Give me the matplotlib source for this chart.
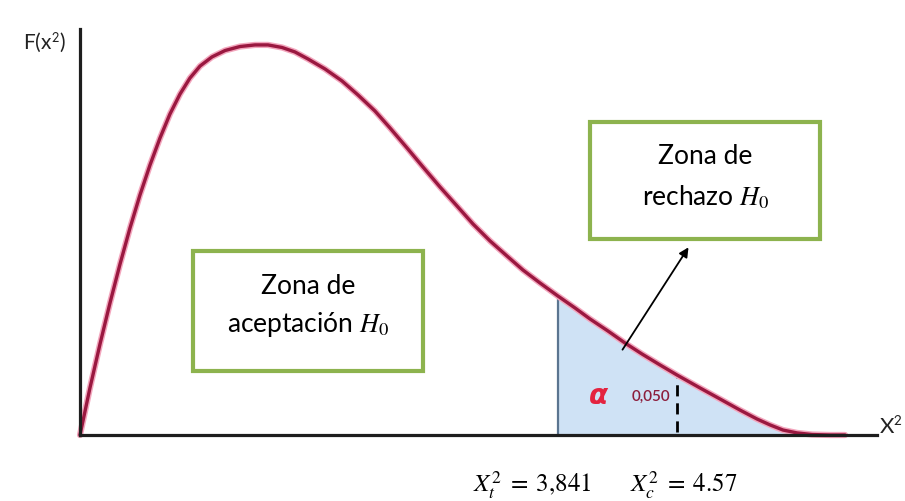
import numpy as np
import matplotlib
matplotlib.use("Agg")
import matplotlib.pyplot as plt
from matplotlib.patches import Rectangle

plt.rcParams['font.family'] = ['Lato', 'DejaVu Sans']
plt.rcParams['mathtext.fontset'] = 'stix'

# curve (chi-square value, density)
chi_x = [0.0, 0.080, 0.161, 0.241, 0.322, 0.402, 0.482, 0.563, 0.643, 0.723,
         0.804, 0.884, 0.965, 1.061, 1.166, 1.286, 1.407, 1.511, 1.624, 1.728,
         1.833, 1.969, 2.106, 2.235, 2.371, 2.492, 2.629, 2.757, 2.894, 3.031,
         3.159, 3.296, 3.432, 3.561, 3.698, 3.841, 3.979, 4.100, 4.244, 4.381,
         4.518, 4.662, 4.799, 4.984, 5.145, 5.305, 5.442, 5.547, 5.651, 5.764,
         5.884, 6.029, 6.150]
dens_y = [0.0, 0.0294, 0.0569, 0.0825, 0.1069, 0.1294, 0.1500, 0.1688, 0.1856, 0.2006,
          0.2131, 0.2231, 0.2306, 0.2363, 0.2403, 0.2428, 0.2438, 0.2438, 0.2422, 0.2394,
          0.2350, 0.2288, 0.2213, 0.2125, 0.2025, 0.1919, 0.1794, 0.1675, 0.1550, 0.1431,
          0.1319, 0.1213, 0.1119, 0.1031, 0.0950, 0.0869, 0.0794, 0.0725, 0.0650, 0.0575,
          0.0506, 0.0438, 0.0375, 0.0294, 0.0225, 0.0156, 0.0100, 0.0063, 0.0031, 0.0013,
          0.0003, 0.0, 0.0]

x_tab = 3.841        # valor critico
x_calc_pos = 4.80    # where the dashed marker is drawn
alpha_txt = "0,050"
lbl_tab = r"$X_t^2\;=\;3{,}841$"
lbl_calc = r"$X_c^2\;=\;4.57$"

fig = plt.figure(figsize=(9.05, 5.02), dpi=100)
ax = fig.add_axes([0, 0, 1, 1])
ax.set_xlim(-80 / 124.4, 825 / 124.4)
ax.set_ylim(-66 / 1600, 436 / 1600)
ax.axis('off')

cx = np.array(chi_x)
cy = np.array(dens_y)

# rejection region
m = cx >= x_tab
ax.fill_between(cx[m], 0, cy[m], color='#cfe2f5', lw=0, zorder=1)
y_tab = np.interp(x_tab, cx, cy)
ax.plot([x_tab, x_tab], [0, y_tab], color='#5b7590', lw=1.6, zorder=2)
y_calc = np.interp(x_calc_pos, cx, cy)
ax.plot([x_calc_pos, x_calc_pos], [0.002, y_calc], color='black', lw=2,
        dashes=(4, 2.5), zorder=3)

# the curve
ax.plot(cx, cy, color='#f3a6bd', lw=4.5, solid_capstyle='round',
        solid_joinstyle='round', zorder=4)
ax.plot(cx, cy, color='#9a1840', lw=2.4, solid_capstyle='round',
        solid_joinstyle='round', zorder=5)

# axes lines
ax.plot([0, 0], [0, 406 / 1600], color='#1e1e1e', lw=2.3, zorder=6)
ax.plot([0, 797 / 124.4], [0, 0], color='#1e1e1e', lw=2.3, zorder=6)

# overlay in pixel coordinates for the labels and boxes
ov = fig.add_axes([0, 0, 1, 1], zorder=10)
ov.set_xlim(0, 905)
ov.set_ylim(502, 0)
ov.axis('off')
ov.patch.set_alpha(0)

green = '#8db34e'
ov.add_patch(Rectangle((193, 252), 230, 120, facecolor='white', edgecolor=green, lw=3))
ov.add_patch(Rectangle((590, 123), 230, 117, facecolor='white', edgecolor=green, lw=3))

ov.text(308, 287, "Zona de", fontsize=19, ha='center', va='center')
ov.text(308, 325, r"aceptación $H_0$", fontsize=19, ha='center', va='center')
ov.text(705, 157, "Zona de", fontsize=19, ha='center', va='center')
ov.text(706, 197, r"rechazo $H_0$", fontsize=19, ha='center', va='center')

ov.annotate("", xy=(690, 246), xytext=(621, 353),
            arrowprops=dict(arrowstyle='-|>', color='black', lw=1.3, mutation_scale=14))

ov.text(598, 396, "α", fontsize=20, color='#e4233f', fontweight='bold', fontstyle='italic',
        ha='center', va='center', family='DejaVu Sans')
ov.text(651, 397, alpha_txt, fontsize=11, color='#8c1e3c', ha='center', va='center',
        fontweight='semibold')

ov.text(44, 42, r"F(x$^{\mathsf{2}}$)", fontsize=15, color='#222222', ha='center', va='center')
ov.text(891, 427, r"X$^{\mathsf{2}}$", fontsize=16, color='#222222', ha='center', va='center')

ov.text(473, 485, lbl_tab, fontsize=18, ha='left', va='center')
ov.text(630, 485, lbl_calc, fontsize=18, ha='left', va='center')

fig.savefig("out.png", dpi=100)
